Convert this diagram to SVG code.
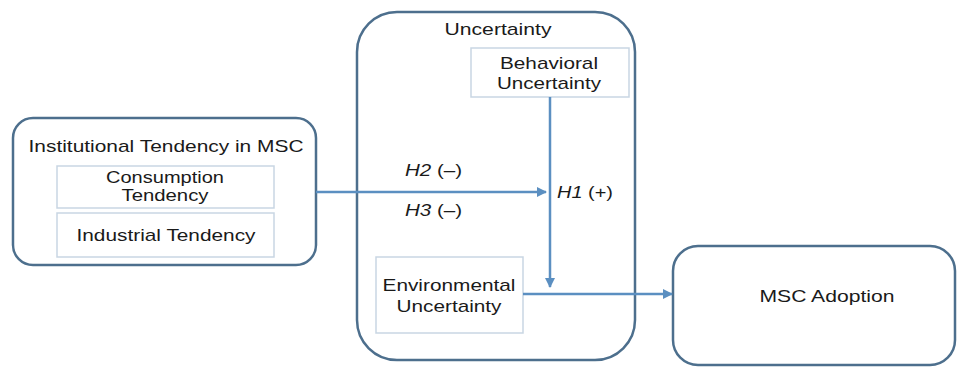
<svg xmlns="http://www.w3.org/2000/svg" width="967" height="367" viewBox="0 0 967 367">
<style>
.outer{fill:#fff;stroke:#4d6f8d;stroke-width:2.5}
.inner{fill:#fff;stroke:#c9d6e3;stroke-width:1.5}
.t{font-family:"Liberation Sans",Arial,sans-serif;font-size:17px;fill:#1a1a1a;text-anchor:middle}
.h{font-family:"Liberation Sans",Arial,sans-serif;font-size:17px;fill:#1a1a1a}
.c{stroke:#5b8fc1;stroke-width:2.5;fill:none}
</style>
<defs>
<marker id="ah" viewBox="0 0 10 10" refX="9" refY="5" markerWidth="4" markerHeight="4" orient="auto" markerUnits="strokeWidth">
<path d="M0,0 L10,5 L0,10 z" fill="#5b8fc1"/>
</marker>
</defs>
<rect width="967" height="367" fill="#fff"/>
<g id="institutional">
<rect class="outer" x="13" y="118" width="303" height="147" rx="20"/>
<text class="t" x="166" y="152" textLength="275" lengthAdjust="spacingAndGlyphs">Institutional Tendency in MSC</text>
<g id="consumption">
<rect class="inner" x="57" y="166" width="217" height="42"/>
<text class="t" x="165" y="183" font-size="15" textLength="118" lengthAdjust="spacingAndGlyphs">Consumption</text>
<text class="t" x="165" y="201" font-size="15" textLength="87" lengthAdjust="spacingAndGlyphs">Tendency</text>
</g>
<g id="industrial">
<rect class="inner" x="57" y="213" width="217" height="44"/>
<text class="t" x="166" y="241" textLength="179" lengthAdjust="spacingAndGlyphs">Industrial Tendency</text>
</g>
</g>
<g id="uncertainty">
<rect class="outer" x="357" y="12" width="278" height="348" rx="40"/>
<text class="t" x="498" y="35" textLength="107" lengthAdjust="spacingAndGlyphs">Uncertainty</text>
<g id="behavioral">
<rect class="inner" x="471" y="48" width="158" height="49"/>
<text class="t" x="549" y="69" textLength="98" lengthAdjust="spacingAndGlyphs">Behavioral</text>
<text class="t" x="549" y="89" textLength="104" lengthAdjust="spacingAndGlyphs">Uncertainty</text>
</g>
<g id="environmental">
<rect class="inner" x="376" y="257" width="147" height="76"/>
<text class="t" x="449" y="291" textLength="133" lengthAdjust="spacingAndGlyphs">Environmental</text>
<text class="t" x="449" y="312" textLength="105" lengthAdjust="spacingAndGlyphs">Uncertainty</text>
</g>
</g>
<g id="adoption">
<rect class="outer" x="673" y="246" width="282" height="119" rx="25"/>
<text class="t" x="827" y="302" font-size="19" textLength="135" lengthAdjust="spacingAndGlyphs">MSC Adoption</text>
</g>
<g id="connectors">
<line class="c" x1="316" y1="192" x2="546" y2="192" marker-end="url(#ah)"/>
<line class="c" x1="550" y1="97" x2="550" y2="287" marker-end="url(#ah)"/>
<line class="c" x1="523" y1="294" x2="672" y2="294" marker-end="url(#ah)"/>
<text class="h" x="405" y="176" textLength="57" lengthAdjust="spacingAndGlyphs"><tspan font-style="italic">H2</tspan> (–)</text>
<text class="h" x="405" y="216" textLength="57" lengthAdjust="spacingAndGlyphs"><tspan font-style="italic">H3</tspan> (–)</text>
<text class="h" x="557" y="198" textLength="56" lengthAdjust="spacingAndGlyphs"><tspan font-style="italic">H1</tspan> (+)</text>
</g>
</svg>
